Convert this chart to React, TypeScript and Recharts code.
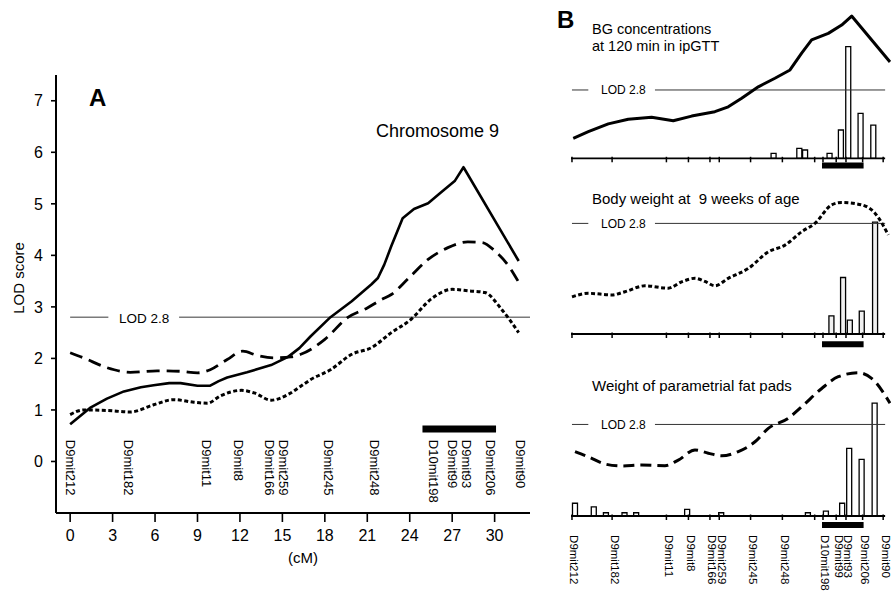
import React from 'react';
import { ComposedChart, Line, Bar, Scatter, XAxis, YAxis, ReferenceLine } from 'recharts';

const FONT = '"Liberation Sans", Arial, Helvetica, sans-serif';

// ---------- markers (cM positions on chromosome 9) ----------
const markerNames = ['D9mit212', 'D9mit182', 'D9mit11', 'D9mit8', 'D9mit166', 'D9mit259', 'D9mit245', 'D9mit248', 'D10mit198', 'D9mit99', 'D9mit93', 'D9mit206', 'D9mit90'];
const markerCM = [0, 4.1, 9.65, 11.9, 14.1, 15.05, 18.25, 21.5, 25.65, 27.0, 28.0, 29.7, 31.8];
const extraTickCM = [24.8];
const cmTicks = [0, 3, 6, 9, 12, 15, 18, 21, 24, 27, 30];
const lodTicks = [0, 1, 2, 3, 4, 5, 6, 7];

// ---------- panel A: LOD curves ----------
const aSolidCM = [0, 1.4, 2.6, 3.8, 5.0, 5.9, 7.0, 7.8, 9.0, 9.9, 10.5, 11.1, 12.5, 14.2, 15.4, 16.2, 17.0, 18.4, 19.9, 21.3, 21.75, 22.2, 22.7, 23.5, 24.3, 25.3, 26.2, 27.2, 27.8, 31.7];
const aSolidLOD = [0.72, 1.04, 1.22, 1.36, 1.44, 1.48, 1.52, 1.52, 1.47, 1.47, 1.56, 1.63, 1.73, 1.87, 2.03, 2.2, 2.43, 2.8, 3.11, 3.44, 3.56, 3.82, 4.18, 4.72, 4.9, 5.01, 5.22, 5.45, 5.71, 3.89];

const aDashCM = [0, 0.95, 2.6, 4.25, 6.15, 7.8, 9.0, 9.9, 11.1, 12.2, 13.2, 14.4, 15.6, 16.3, 18.0, 19.6, 21.0, 22.0, 22.7, 23.9, 25.3, 26.7, 28.1, 29.1, 30.0, 31.0, 31.7];
const aDashLOD = [2.11, 2.01, 1.82, 1.73, 1.76, 1.75, 1.72, 1.78, 1.98, 2.14, 2.06, 2.01, 2.03, 2.08, 2.37, 2.79, 2.98, 3.14, 3.24, 3.55, 3.92, 4.15, 4.26, 4.25, 4.09, 3.79, 3.48];

const aDotCM = [0, 0.95, 2.6, 4.25, 5.9, 7.3, 8.75, 9.7, 10.6, 12.1, 13.0, 14.2, 15.4, 16.3, 17.0, 18.4, 19.9, 21.3, 22.7, 24.1, 25.5, 27.0, 28.2, 29.3, 30.5, 31.7];
const aDotLOD = [0.91, 1.0, 0.99, 0.96, 1.1, 1.2, 1.15, 1.13, 1.27, 1.38, 1.33, 1.19, 1.3, 1.46, 1.59, 1.78, 2.08, 2.21, 2.5, 2.76, 3.15, 3.34, 3.31, 3.28, 2.95, 2.5];

// ---------- panel B: BG at 120 min ----------
const bgCM = [0.13, 1.67, 3.71, 5.75, 8.14, 10.35, 12.23, 14.6, 15.97, 17.34, 19.04, 20.74, 22.28, 23.47, 24.49, 26.19, 27.56, 28.58, 32.5];
const bgLOD = [0.82, 1.09, 1.41, 1.6, 1.68, 1.54, 1.73, 1.91, 2.11, 2.46, 2.93, 3.28, 3.62, 4.31, 4.85, 5.12, 5.46, 5.83, 3.95];
const bgBarCM = [20.64, 23.27, 23.86, 26.36, 27.52, 28.27, 29.53, 30.83];
const bgBarVal = [0.2, 0.41, 0.34, 0.2, 1.16, 4.58, 1.84, 1.36];

// ---------- panel B: body weight at 9 weeks ----------
const bwCM = [0, 1.67, 4.06, 5.42, 7.46, 9.84, 11.2, 12.57, 13.59, 14.61, 15.97, 18.02, 20.06, 21.77, 23.47, 24.83, 26.54, 27.56, 29.6, 30.96, 32.32];
const bwLOD = [0.94, 1.03, 0.99, 1.07, 1.22, 1.16, 1.32, 1.41, 1.33, 1.22, 1.41, 1.66, 2.08, 2.25, 2.59, 2.8, 3.27, 3.33, 3.27, 3.06, 2.51];
const bwBarCM = [26.5, 27.69, 28.38, 29.6, 30.96];
const bwBarVal = [0.46, 1.43, 0.35, 0.58, 2.83];

// ---------- panel B: parametrial fat pads ----------
const fpCM = [0.31, 1.67, 3.37, 5.08, 7.12, 9.5, 10.86, 12.57, 13.93, 15.3, 17.0, 18.7, 20.06, 22.1, 23.47, 25.52, 27.21, 29.26, 30.62, 32.5];
const fpLOD = [1.97, 1.81, 1.59, 1.53, 1.56, 1.54, 1.71, 2.02, 1.92, 1.84, 1.97, 2.27, 2.68, 2.99, 3.34, 3.9, 4.26, 4.38, 4.21, 3.45];
const fpBarCM = [0.31, 2.23, 3.47, 5.37, 6.56, 11.77, 15.25, 24.11, 25.95, 27.61, 28.33, 29.6, 30.93];
const fpBarVal = [0.39, 0.28, 0.1, 0.1, 0.1, 0.2, 0.1, 0.1, 0.15, 0.39, 2.07, 1.73, 3.45];

const LOD_THRESHOLD = 2.8;
const qtlInterval: [number, number] = [25.55, 29.8];

type Pt = { x: number; y: number; name?: string };
const zip = (xs: number[], ys: number[]): Pt[] => xs.map((x, i) => ({ x, y: ys[i] }));

const aSolid = zip(aSolidCM, aSolidLOD);
const aDash = zip(aDashCM, aDashLOD);
const aDot = zip(aDotCM, aDotLOD);

const A_X_DOMAIN: [number, number] = [-1, 32.5];
const A_Y_DOMAIN: [number, number] = [-1, 7.5];
const B_X_DOMAIN: [number, number] = [-0.1, 32.6];

const markerLabelsA: Pt[] = markerCM.map((x, i) => ({ x, y: 0.42, name: markerNames[i] }));

const MarkerLabelA = (props: any) => {
  const { cx, cy, payload } = props;
  if (cx == null || cy == null) return null;
  return (
    <text x={cx} y={cy} dy="0.35em" transform={`rotate(90 ${cx} ${cy})`} fontSize={13} fontFamily={FONT} fill="#000" textAnchor="start">
      {payload.name}
    </text>
  );
};

const MarkerLabelB = (props: any) => {
  const { cx, cy, payload } = props;
  if (cx == null || cy == null) return null;
  const x = cx + 2.5;
  const y = cy + 6;
  return (
    <text x={x} y={y} dy="0.35em" transform={`rotate(90 ${x} ${y})`} fontSize={11.5} fontFamily={FONT} fill="#000" textAnchor="start">
      {payload.name}
    </text>
  );
};

const PanelA = () => (
  <div style={{ position: 'absolute', left: 0, top: 0, width: 560, height: 594 }}>
    <ComposedChart width={560} height={594} margin={{ top: 75, right: 30, bottom: 51, left: 16 }}>
      <XAxis
        type="number"
        dataKey="x"
        domain={A_X_DOMAIN}
        ticks={cmTicks}
        interval={0}
        height={30}
        tickSize={9}
        tickMargin={8}
        axisLine={{ stroke: '#000', strokeWidth: 2 }}
        tickLine={{ stroke: '#000', strokeWidth: 1.6 }}
        tick={{ fontSize: 16, fill: '#000', fontFamily: FONT }}
      />
      <YAxis
        type="number"
        dataKey="y"
        domain={A_Y_DOMAIN}
        ticks={lodTicks}
        interval={0}
        width={40}
        tickSize={5}
        tickMargin={8}
        axisLine={{ stroke: '#000', strokeWidth: 2 }}
        tickLine={{ stroke: '#000', strokeWidth: 1.6 }}
        tick={{ fontSize: 16, fill: '#000', fontFamily: FONT }}
      />
      <ReferenceLine segment={[{ x: 0, y: LOD_THRESHOLD }, { x: 2.7, y: LOD_THRESHOLD }]} stroke="#7a7a7a" strokeWidth={1.5} />
      <ReferenceLine segment={[{ x: 7.7, y: LOD_THRESHOLD }, { x: 32.5, y: LOD_THRESHOLD }]} stroke="#7a7a7a" strokeWidth={1.5} />
      <ReferenceLine segment={[{ x: 24.9, y: 0.63 }, { x: 30.1, y: 0.63 }]} stroke="#000" strokeWidth={7} />
      <Line data={aDot} dataKey="y" type="monotone" stroke="#000" strokeWidth={3} strokeDasharray="4 2.5" dot={false} activeDot={false} isAnimationActive={false} />
      <Line data={aDash} dataKey="y" type="monotone" stroke="#000" strokeWidth={2.8} strokeDasharray="13 7" dot={false} activeDot={false} isAnimationActive={false} />
      <Line data={aSolid} dataKey="y" type="linear" stroke="#000" strokeWidth={2.6} strokeLinejoin="round" dot={false} activeDot={false} isAnimationActive={false} />
      <Scatter data={markerLabelsA} dataKey="y" shape={MarkerLabelA} isAnimationActive={false} />
    </ComposedChart>
  </div>
);

type SubCfg = {
  top: number;
  height: number;
  mTop: number;
  mBottom: number;
  domain: [number, number];
  pxPerUnit: number;
  line: Pt[];
  lineType: 'linear' | 'monotone';
  dash?: string;
  bars: Pt[];
  barFill: string;
  blackBarY: number;
  labels: boolean;
};

const subs: SubCfg[] = [
  { top: 0, height: 180, mTop: 2.14, mBottom: 7.06, domain: [-0.6, 6.4], pxPerUnit: 24.4, line: zip(bgCM, bgLOD), lineType: 'linear', bars: zip(bgBarCM, bgBarVal), barFill: '#ffffff', blackBarY: -0.295, labels: false },
  { top: 185, height: 170, mTop: 6.8, mBottom: 5.2, domain: [-0.4, 3.6], pxPerUnit: 39.5, line: zip(bwCM, bwLOD), lineType: 'monotone', dash: '4 2.5', bars: zip(bwBarCM, bwBarVal), barFill: '#f0f0f0', blackBarY: -0.258, labels: false },
  { top: 360, height: 234, mTop: 5.58, mBottom: 64.92, domain: [-0.4, 4.6], pxPerUnit: 32.7, line: zip(fpCM, fpLOD), lineType: 'monotone', dash: '11 6', bars: zip(fpBarCM, fpBarVal), barFill: '#ffffff', blackBarY: -0.275, labels: true },
];

const bTicks = [...markerCM.slice(0, 8), ...extraTickCM, ...markerCM.slice(8)];

const SubPanel = ({ s }: { s: SubCfg }) => {
  const margin = { top: s.mTop, right: 0, bottom: s.mBottom, left: 11 };
  const up = 1.5 / s.pxPerUnit;
  const down = 4 / s.pxPerUnit;
  const labelData: Pt[] = markerCM.map((x, i) => ({ x, y: s.domain[0], name: markerNames[i] }));
  return (
    <div style={{ position: 'absolute', left: 560, top: s.top, width: 331, height: s.height }}>
      <div style={{ position: 'absolute', left: 0, top: 0 }}>
        <ComposedChart width={331} height={s.height} data={s.bars} margin={margin}>
          <XAxis type="number" dataKey="x" domain={B_X_DOMAIN} hide />
          <YAxis type="number" dataKey="y" domain={s.domain} hide />
          <ReferenceLine segment={[{ x: 0, y: LOD_THRESHOLD }, { x: 1.67, y: LOD_THRESHOLD }]} stroke="#333" strokeWidth={1} />
          <ReferenceLine segment={[{ x: 8.48, y: LOD_THRESHOLD }, { x: 32.0, y: LOD_THRESHOLD }]} stroke="#333" strokeWidth={1} />
          <Bar dataKey="y" barSize={5} fill={s.barFill} stroke="#000" strokeWidth={1.3} isAnimationActive={false} />
          <ReferenceLine segment={[{ x: -0.1, y: 0 }, { x: 32.0, y: 0 }]} stroke="#000" strokeWidth={1.8} />
          {bTicks.map((t, i) => (
            <ReferenceLine key={i} segment={[{ x: t, y: up }, { x: t, y: -down }]} stroke="#000" strokeWidth={1.5} />
          ))}
          <ReferenceLine segment={[{ x: qtlInterval[0], y: s.blackBarY }, { x: qtlInterval[1], y: s.blackBarY }]} stroke="#000" strokeWidth={6} />
        </ComposedChart>
      </div>
      <div style={{ position: 'absolute', left: 0, top: 0 }}>
        <ComposedChart width={331} height={s.height} margin={margin}>
          <XAxis type="number" dataKey="x" domain={B_X_DOMAIN} hide />
          <YAxis type="number" dataKey="y" domain={s.domain} hide />
          <Line data={s.line} dataKey="y" type={s.lineType} stroke="#000" strokeWidth={3} strokeDasharray={s.dash} strokeLinejoin="round" dot={false} activeDot={false} isAnimationActive={false} />
          {s.labels && <Scatter data={labelData} dataKey="y" shape={MarkerLabelB} isAnimationActive={false} />}
        </ComposedChart>
      </div>
    </div>
  );
};

const Texts = () => (
  <svg width={891} height={594} style={{ position: 'absolute', left: 0, top: 0, pointerEvents: 'none' }} fontFamily={FONT}>
    <text x={89} y={106} fontSize={24} fontWeight="bold" fill="#000">A</text>
    <text x={376} y={137} fontSize={18} fill="#000">Chromosome 9</text>
    <text x={24} y={278} fontSize={15} fill="#000" textAnchor="middle" transform="rotate(-90 24 278)">LOD score</text>
    <text x={303} y={563} fontSize={15} fill="#000" textAnchor="middle">(cM)</text>
    <text x={119} y={322.5} fontSize={13.5} fill="#000">LOD 2.8</text>

    <text x={557} y={28} fontSize={24} fontWeight="bold" fill="#000">B</text>
    <text x={592} y={34} fontSize={14.5} fill="#000">BG concentrations</text>
    <text x={592} y={51} fontSize={14.5} fill="#000">at 120 min in ipGTT</text>
    <text x={601} y={94.3} fontSize={12} fill="#000">LOD 2.8</text>

    <text x={592} y={204} fontSize={15} fill="#000" style={{ whiteSpace: 'pre' }}>Body weight at  9 weeks of age</text>
    <text x={601} y={227.6} fontSize={12} fill="#000">LOD 2.8</text>

    <text x={592} y={391} fontSize={15} fill="#000">Weight of parametrial fat pads</text>
    <text x={601} y={428.6} fontSize={12} fill="#000">LOD 2.8</text>
  </svg>
);

export default function App() {
  return (
    <div style={{ position: 'absolute', left: 0, top: 0, width: 891, height: 594, background: '#fff', fontFamily: FONT, overflow: 'hidden' }}>
      <PanelA />
      {subs.map((s, i) => (
        <SubPanel key={i} s={s} />
      ))}
      <Texts />
    </div>
  );
}
